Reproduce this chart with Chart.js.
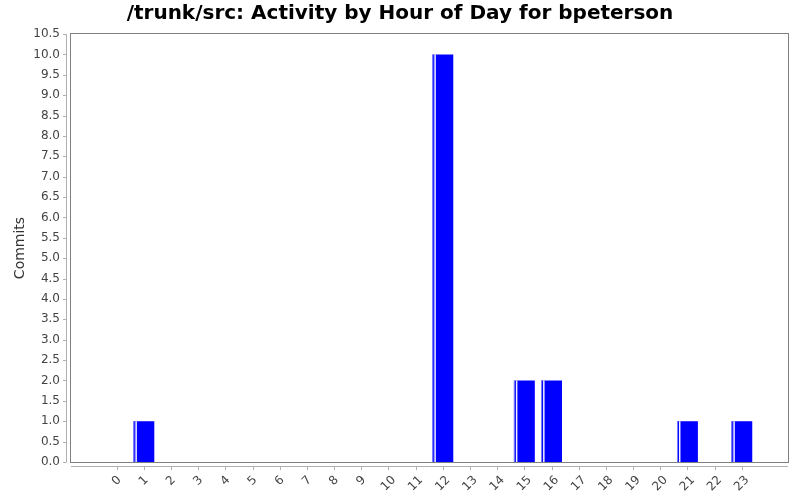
<!DOCTYPE html>
<html>
<head>
<meta charset="utf-8">
<script src="https://cdn.jsdelivr.net/npm/chart.js@4"></script>
<style>
  html, body { margin: 0; padding: 0; background: #ffffff; }
  #wrap { width: 800px; height: 500px; }
</style>
</head>
<body>
<div id="wrap"><canvas id="hourChart" width="800" height="500"></canvas></div>
<script>
// Hours of the day (category values on the x axis)
let hours = [0, 1, 2, 3, 4, 5, 6, 7, 8, 9, 10, 11, 12, 13, 14, 15, 16, 17, 18, 19, 20, 21, 22, 23];

// Commits per hour
let commits = [0, 1, 0, 0, 0, 0, 0, 0, 0, 0, 0, 0, 10, 0, 0, 2, 2, 0, 0, 0, 0, 1, 0, 1];

// Y axis range and step
let yMin = 0;
let yMax = 10.5;
let yStep = 0.5;

// Extra room on both ends of the category axis (in hours)
let xMin = -1.68;
let xMax = 24.7;

let titleText = '/trunk/src: Activity by Hour of Day for bpeterson';
let yTitle = 'Commits';

// Build point data from the arrays
let points = [];
for (let i = 0; i < hours.length; i++) {
    points.push({ x: hours[i], y: commits[i] });
}

// Draws the plot frame, the offset axis lines with their ticks,
// the rotated hour labels and the light stripe near the left edge of each bar
let framePlugin = {
    id: 'framePlugin',
    beforeDatasetsDraw(chart) {
        let ctx = chart.ctx;
        let a = chart.chartArea;
        let xs = chart.scales.x;
        let ys = chart.scales.y;
        ctx.save();

        // Axis lines sit a few pixels outside the plot
        ctx.strokeStyle = '#b0b0b0';
        ctx.lineWidth = 1;
        ctx.beginPath();
        ctx.moveTo(a.left - 4.5, a.top);
        ctx.lineTo(a.left - 4.5, a.bottom);
        ys.ticks.forEach(function (t) {
            let py = Math.round(ys.getPixelForValue(t.value)) + 0.5;
            ctx.moveTo(a.left - 8, py);
            ctx.lineTo(a.left - 4.5, py);
        });
        ctx.moveTo(a.left, a.bottom + 4.5);
        ctx.lineTo(a.right, a.bottom + 4.5);
        xs.ticks.forEach(function (t) {
            let px = Math.round(xs.getPixelForValue(t.value)) + 0.5;
            ctx.moveTo(px, a.bottom + 4.5);
            ctx.lineTo(px, a.bottom + 8);
        });
        ctx.stroke();

        // Hour labels, rotated 45 degrees and centred under their tick
        ctx.font = '12px "DejaVu Sans"';
        ctx.fillStyle = '#444444';
        ctx.textAlign = 'center';
        ctx.textBaseline = 'middle';
        let labelTop = a.bottom + 13;
        hours.forEach(function (h) {
            let txt = String(h);
            let w = ctx.measureText(txt).width;
            let extent = (w + 9) * Math.SQRT1_2;
            let px = xs.getPixelForValue(h);
            ctx.save();
            ctx.translate(px, labelTop + extent / 2);
            ctx.rotate(-Math.PI / 4);
            ctx.fillText(txt, 0, 0);
            ctx.restore();
        });
        ctx.restore();
    },
    afterDatasetsDraw(chart) {
        let ctx = chart.ctx;
        let a = chart.chartArea;
        ctx.save();

        // White highlight line on each non-empty bar
        let meta = chart.getDatasetMeta(0);
        meta.data.forEach(function (bar, i) {
            if (commits[i] <= 0) {
                return;
            }
            let left = bar.x - bar.width / 2;
            ctx.fillStyle = 'rgba(255,255,255,0.95)';
            ctx.fillRect(left + 2, bar.y, 1.5, bar.base - bar.y);
            ctx.fillStyle = 'rgba(140,140,255,0.9)';
            ctx.fillRect(left, bar.y, 1, bar.base - bar.y);
        });

        // Plot frame
        ctx.strokeStyle = '#808080';
        ctx.lineWidth = 1;
        ctx.strokeRect(Math.round(a.left) - 0.5, Math.round(a.top) - 0.5,
            Math.round(a.right - a.left) + 1, Math.round(a.bottom - a.top) + 1);
        ctx.restore();
    }
};

let ctx = document.getElementById('hourChart').getContext('2d');

let myChart = new Chart(ctx, {
    type: 'bar',
    data: {
        datasets: [{
            label: yTitle,
            data: points,
            backgroundColor: '#0000ff',
            borderWidth: 0,
            categoryPercentage: 1.0,
            barPercentage: 0.77
        }]
    },
    options: {
        responsive: false,
        animation: false,
        layout: { padding: 0 },
        plugins: {
            legend: { display: false },
            tooltip: { enabled: false },
            title: {
                display: true,
                text: titleText,
                color: '#000000',
                font: { family: 'DejaVu Sans', size: 20, weight: 'bold' },
                padding: { top: 2, bottom: 8 }
            }
        },
        scales: {
            x: {
                type: 'linear',
                offset: false,
                min: xMin,
                max: xMax,
                afterBuildTicks: function (scale) {
                    scale.ticks = hours.map(function (h) { return { value: h }; });
                },
                afterFit: function (scale) {
                    // Room for the rotated labels and a gap on the right
                    scale.height = 38;
                    scale.paddingRight = 12;
                },
                grid: { display: false },
                border: { display: false },
                ticks: { display: false }
            },
            y: {
                min: yMin,
                max: yMax,
                afterFit: function (scale) {
                    scale.width = 71;
                },
                grid: { display: false },
                border: { display: false },
                title: {
                    display: true,
                    text: yTitle,
                    color: '#333333',
                    font: { family: 'DejaVu Sans', size: 14 },
                    padding: { top: 12, bottom: 0 }
                },
                ticks: {
                    stepSize: yStep,
                    padding: 3,
                    color: '#444444',
                    font: { family: 'DejaVu Sans', size: 12 },
                    callback: function (v) { return v.toFixed(1); }
                }
            }
        }
    },
    plugins: [framePlugin]
});
</script>
</body>
</html>
